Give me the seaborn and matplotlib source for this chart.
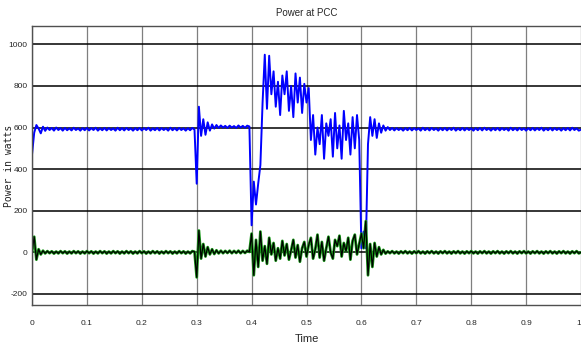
import numpy as np
import pandas as pd
import matplotlib
matplotlib.use('Agg')
import matplotlib.pyplot as plt
import seaborn as sns

# simulation time, 4 ms step
time = np.round(np.arange(0, 1.0001, 0.004), 3)

# blue trace: power delivered at the PCC (W), one row per 0.1 s
pcc_power = [
    470, 575, 612, 595, 572, 604, 584, 600, 588, 598, 585, 600, 588, 597, 585, 598, 587, 596, 586, 599, 588, 596, 585, 597, 587,
    598, 586, 597, 588, 599, 585, 596, 587, 598, 586, 597, 588, 596, 585, 599, 587, 597, 586, 598, 588, 596, 585, 597, 587, 598,
    586, 597, 588, 599, 585, 596, 587, 598, 586, 597, 588, 596, 585, 599, 587, 597, 586, 598, 588, 596, 585, 597, 587, 598, 590,
    330, 700, 560, 640, 565, 625, 585, 615, 595, 612, 598, 610, 600, 608, 598, 609, 600, 607, 598, 610, 600, 608, 599, 609, 605,
    130, 340, 230, 330, 420, 720, 950, 690, 945, 760, 870, 700, 820, 660, 850, 760, 870, 680, 800, 650, 860, 720, 840, 670, 810,
    720, 790, 540, 660, 470, 600, 520, 660, 450, 620, 560, 640, 460, 670, 500, 610, 450, 680, 540, 620, 470, 650, 500, 660, 540,
    20, 100, 20, 520, 650, 560, 640, 550, 620, 575, 610, 585, 602, 588, 598, 586, 597, 588, 596, 585, 597, 587, 598, 586, 597,
    588, 596, 585, 599, 587, 597, 586, 598, 588, 596, 585, 597, 587, 598, 586, 597, 588, 599, 585, 596, 587, 598, 586, 597, 588,
    596, 585, 597, 587, 598, 586, 599, 588, 596, 585, 597, 587, 598, 586, 597, 588, 596, 585, 599, 587, 597, 586, 598, 588, 596,
    585, 597, 587, 598, 586, 597, 588, 599, 585, 596, 587, 598, 586, 597, 588, 596, 585, 597, 587, 598, 586, 599, 588, 596, 585,
    590,
]

# black/green trace: power exchanged with the grid (W)
grid_power = [
    0, 75, -35, 15, -10, 8, -5, 6, -4, 5, -6, 4, -5, 6, -4, 5, -6, 4, -5, 6, -4, 5, -6, 4, -5,
    6, -4, 5, -6, 4, -5, 6, -4, 5, -6, 4, -5, 6, -4, 5, -6, 4, -5, 6, -4, 5, -6, 4, -5, 6,
    -4, 5, -6, 4, -5, 6, -4, 5, -6, 4, -5, 6, -4, 5, -6, 4, -5, 6, -4, 5, -6, 4, -5, 6, 3,
    -120, 105, -30, 40, -20, 25, -10, 15, -8, 10, -5, 8, -4, 7, -3, 8, -4, 7, -3, 8, -4, 7, -3, 8, 2,
    90, -110, 60, -70, 100, -40, 30, -55, 70, -10, 45, -40, 20, -30, 55, -15, 40, -35, 10, 60, -25, 35, -45, 20, 50,
    -20, 35, 70, -30, 15, 85, -25, 50, -40, 20, 75, 0, -30, 60, 30, 80, -20, 45, 5, 70, -35, 55, 85, -10, 40,
    90, 20, 150, -110, 40, -70, 45, -20, 25, -10, 12, -6, 5, -4, 6, -5, 4, -6, 5, -4, 6, -5, 4, -6, 5,
    -4, 6, -5, 4, -6, 5, -4, 6, -5, 4, -6, 5, -4, 6, -5, 4, -6, 5, -4, 6, -5, 4, -6, 5, -4,
    6, -5, 4, -6, 5, -4, 6, -5, 4, -6, 5, -4, 6, -5, 4, -6, 5, -4, 6, -5, 4, -6, 5, -4, 6,
    -5, 4, -6, 5, -4, 6, -5, 4, -6, 5, -4, 6, -5, 4, -6, 5, -4, 6, -5, 4, -6, 5, -4, 6, -5,
    0,
]

x_ticks = [0, 0.1, 0.2, 0.3, 0.4, 0.5, 0.6, 0.7, 0.8, 0.9, 1.0]
x_tick_labels = ['0', '0.1', '0.2', '0.3', '0.4', '0.5', '0.6', '0.7', '0.8', '0.9', '1']
y_ticks = [-200, 0, 200, 400, 600, 800, 1000]

df = pd.DataFrame({'Time': time, 'pcc': pcc_power, 'grid': grid_power})

sns.set_theme(style='white')
small = ['Liberation Sans', 'DejaVu Sans']

fig = plt.figure(figsize=(5.81, 3.5), dpi=100)
ax = fig.add_axes([32 / 581, 45 / 350, 549 / 581, 279 / 350])

sns.lineplot(data=df, x='Time', y='pcc', color='#0000ff', linewidth=1.4, ax=ax)
sns.lineplot(data=df, x='Time', y='grid', color='#1a9a1a', linewidth=2.0, ax=ax)
sns.lineplot(data=df, x='Time', y='grid', color='black', linewidth=0.9, ax=ax)

ax.set_xlim(0, 1)
ax.set_ylim(-253, 1088)
ax.set_xticks(x_ticks)
ax.set_xticklabels(x_tick_labels, family=small, fontsize=6)
ax.get_xticklabels()[-1].set_horizontalalignment('right')
ax.set_yticks(y_ticks)
ax.set_yticklabels([str(v) for v in y_ticks], family=small, fontsize=6)
ax.tick_params(axis='x', length=0, pad=11)
ax.tick_params(axis='y', length=0, pad=3)

ax.set_axisbelow(True)
ax.yaxis.grid(True, color='black', linewidth=1.1)
ax.xaxis.grid(True, color='#7f7f7f', linewidth=0.9)

for side in ['left', 'top', 'bottom']:
    ax.spines[side].set_color('#505050')
    ax.spines[side].set_linewidth(1.0)
ax.spines['right'].set_visible(False)

ax.set_title('Power at PCC', family=small, fontsize=7, pad=7)
ax.set_xlabel('Time', family=small, fontsize=8, labelpad=5)
ax.set_ylabel('Power in watts', family='DejaVu Sans Mono', fontsize=7, color='#222222')
ax.yaxis.set_label_coords(-0.032, 0.5)

fig.savefig('out.png', dpi=100)
